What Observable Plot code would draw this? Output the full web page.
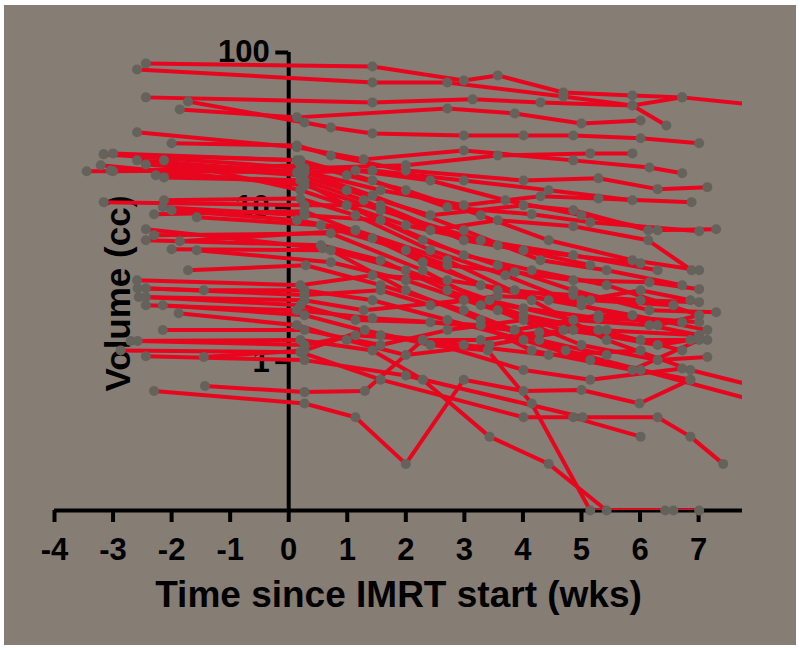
<!DOCTYPE html>
<html><head><meta charset="utf-8">
<script src="https://cdn.jsdelivr.net/npm/d3@7"></script>
<script src="https://cdn.jsdelivr.net/npm/@observablehq/plot@0.6"></script>
<style>
html,body{margin:0;padding:0;background:#ffffff;}
#chart{position:absolute;left:4px;top:5px;width:792px;height:640px;background:#867d75;}
</style></head><body><div id="chart"></div>
<script>
// weeks since IMRT start, one array per patient
const patientTimes = [
  [-2.44, 1.43, 2.99, 3.57, 4.69, 5.87, 6.72, 8.23],
  [-2.59, 1.43, 2.71, 4.69, 5.87, 6.72],
  [-2.44, 1.43, 3.14, 4.30, 5.87, 6.45],
  [-1.86, 0.14, 2.71, 3.86, 5.00, 6.01],
  [-1.72, 0.27, 0.72, 1.43, 2.99, 4.01, 4.86, 6.01, 7.01],
  [-2.59, 0.14, 1.28, 2.99, 4.86, 6.16, 6.72],
  [-2.00, 0.14, 0.72, 2.00, 4.01, 5.29, 6.30, 7.15],
  [-3.16, 0.27, 2.00, 3.57, 5.15, 5.87],
  [-3.45, 0.20, 1.57, 2.99, 4.30, 5.29, 6.88],
  [-2.44, 0.20, 0.99, 2.42, 4.01, 4.86, 6.14, 7.30],
  [-3.00, 0.20, 1.43, 2.71, 4.15, 5.15, 7.01],
  [-2.13, 0.27, 1.28, 2.42, 3.57, 4.86, 6.14, 6.88],
  [-3.16, 0.27, 1.57, 2.99, 4.01, 6.01],
  [-2.30, 0.27, 1.43, 2.71, 3.86, 4.86, 6.16, 7.01],
  [-2.00, 0.14, 1.14, 2.29, 3.57, 4.86, 6.01, 7.01],
  [-2.15, 0.27, 1.57, 2.99, 4.15, 5.43, 7.01],
  [-1.57, 0.55, 2.00, 3.28, 4.44, 5.87, 7.15],
  [-2.44, 0.58, 2.00, 3.43, 4.86, 6.16, 7.01],
  [-2.30, 0.72, 2.29, 3.57, 5.00, 6.30, 7.15],
  [-1.86, 1.14, 2.71, 4.15, 5.43, 6.86, 8.23],
  [-2.00, 0.72, 2.00, 3.28, 4.73, 6.01, 8.23],
  [-2.58, -1.45, 0.27, 1.43, 2.71, 4.01, 5.15, 6.86],
  [-2.44, 0.27, 1.57, 2.42, 3.57, 5.00, 6.01, 6.86],
  [-2.56, 0.27, 1.28, 2.99, 4.01, 5.29, 6.72],
  [-2.44, 0.20, 1.14, 2.42, 3.86, 5.29, 7.01],
  [-2.44, 0.14, 1.43, 3.28, 4.15, 5.87, 7.01],
  [-2.15, 0.27, 1.57, 2.99, 4.44, 6.01],
  [-1.88, 0.14, 0.99, 2.00, 3.43, 4.86, 6.30, 6.86],
  [-2.15, 0.27, 1.57, 2.71, 4.01, 5.43],
  [-2.58, 0.27, 1.14, 2.29, 4.01, 5.15, 6.72],
  [-2.70, 0.20, 1.43, 2.29, 3.43, 4.44, 5.43, 6.43, 7.01],
  [-2.87, 0.20, 1.57, 4.01, 4.86, 6.01],
  [-2.44, 0.27, 2.00, 5.02, 6.30, 6.86, 7.42],
  [-1.45, 0.27, 1.30, 2.42, 3.40, 4.15, 5.15, 6.57],
  [-2.30, 0.27, 1.14, 2.00, 2.99, 4.01, 5.00, 5.99, 6.86],
  [-1.43, 0.27, 1.30, 2.29, 3.28, 4.28, 5.29, 7.01],
  [-3.16, 0.14, 0.99, 2.00, 3.28, 4.44, 5.87, 7.01],
  [-3.00, 0.20, 1.14, 2.42, 3.70, 5.00, 6.30],
  [-2.59, 0.27, 1.43, 2.99, 4.30, 5.43, 6.72],
  [-2.27, 0.20, 0.99, 2.29, 3.57, 4.86, 6.16, 7.30],
  [-2.13, 0.20, 1.14, 2.42, 3.70, 5.00, 6.30, 7.01],
  [-2.44, 0.55, 1.57, 2.71, 4.01, 5.29, 6.72],
  [-1.57, 0.72, 2.00, 3.28, 4.69, 6.01, 7.15],
  [-2.59, 0.20, 1.43, 2.71, 3.86, 5.15, 6.57],
  [-1.72, 0.29, 1.57, 2.99, 4.28, 5.43],
  [-3.04, 0.14, 1.43, 2.99, 4.44, 5.87],
  [-3.21, 0.27, 1.57, 3.28, 4.86, 6.30],
  [-2.13, 0.20, 2.00, 3.57, 5.15]
];
// volume in cc, same order
const patientVolumes = [
  [84.9, 81.2, 65.9, 71.1, 55.2, 52.8, 51.3, 44.8],
  [77.6, 64.0, 64.0, 52.0, 45.5, 51.3],
  [51.3, 47.6, 49.8, 47.6, 45.5, 33.8],
  [42.9, 38.1, 43.5, 40.4, 34.8, 36.4],
  [48.3, 35.3, 32.8, 30.0, 29.1, 29.1, 29.1, 27.9, 25.9],
  [30.5, 24.4, 20.4, 23.3, 20.1, 18.1, 16.6],
  [25.9, 25.1, 21.6, 17.3, 14.9, 15.4, 13.1, 13.5],
  [22.0, 17.9, 18.7, 21.6, 22.3, 22.3],
  [17.1, 17.3, 12.9, 10.3, 11.8, 11.4, 10.8],
  [18.9, 16.1, 12.9, 8.88, 10.3, 9.57, 7.11, 7.21],
  [22.3, 20.1, 14.9, 10.0, 9.01, 8.00, 7.00],
  [15.6, 14.9, 11.1, 7.11, 8.25, 7.54, 6.12, 3.92],
  [10.8, 10.3, 10.3, 6.12, 5.28, 4.35],
  [9.01, 9.42, 6.31, 4.22, 3.81, 3.38, 3.28, 2.96],
  [9.57, 8.25, 7.11, 4.42, 2.91, 2.71, 2.51, 2.44],
  [10.0, 8.88, 8.25, 4.90, 3.92, 3.14, 2.01],
  [8.62, 7.65, 5.28, 3.14, 2.51, 2.01, 1.61],
  [7.21, 5.44, 3.92, 2.51, 1.87, 1.73, 1.49],
  [6.60, 6.79, 3.92, 2.16, 1.29, 1.03, 1.08],
  [6.04, 7.11, 4.55, 2.51, 1.39, 0.89, 0.66],
  [5.36, 5.28, 2.91, 1.87, 1.19, 0.89, 0.53],
  [3.00, 2.91, 2.91, 2.51, 1.87, 1.39, 1.03, 0.77],
  [3.00, 2.71, 2.91, 2.33, 2.67, 2.51, 2.91, 2.51],
  [2.63, 2.51, 2.16, 2.51, 2.23, 1.92, 1.81],
  [2.63, 2.33, 1.87, 1.81, 1.61, 2.01, 1.81],
  [2.33, 2.16, 1.92, 1.73, 1.19, 0.89, 1.39],
  [2.33, 2.01, 1.49, 1.29, 1.11, 1.19],
  [2.07, 1.73, 1.39, 1.11, 1.29, 1.61, 1.29, 1.39],
  [1.61, 1.61, 1.29, 1.61, 1.87, 1.61],
  [1.37, 1.29, 1.49, 1.39, 0.89, 0.77, 0.91],
  [1.37, 1.39, 1.19, 0.77, 0.33, 0.22, 0.11, 0.11, 0.11],
  [1.19, 1.16, 0.77, 0.44, 0.44, 0.33],
  [1.09, 1.03, 0.82, 0.44, 0.44, 0.33, 0.22],
  [1.08, 1.19, 1.61, 1.29, 1.19, 0.54, 0.11, 0.11],
  [0.65, 0.54, 0.44, 0.22, 0.77, 0.65, 0.66, 0.54, 0.77],
  [0.70, 0.64, 0.65, 1.39, 1.39, 1.56, 1.61, 1.49],
  [22.0, 20.1, 16.1, 12.9, 8.88, 6.12, 4.55, 3.92],
  [17.1, 18.7, 17.3, 14.9, 11.1, 8.88, 7.11],
  [20.1, 16.8, 11.9, 7.11, 4.55, 3.92, 3.14],
  [16.1, 14.9, 10.3, 6.12, 4.22, 2.91, 2.16, 2.10],
  [11.1, 11.4, 8.88, 5.28, 3.64, 2.33, 1.73, 2.01],
  [6.12, 5.69, 4.55, 2.91, 2.01, 1.61, 1.19],
  [5.28, 4.42, 3.38, 2.33, 1.61, 1.39, 1.39],
  [3.38, 3.14, 3.64, 3.38, 2.91, 2.51, 2.33],
  [3.92, 4.22, 3.14, 2.16, 1.39, 1.11],
  [17.3, 16.8, 17.3, 14.9, 12.9, 11.1],
  [18.7, 13.9, 9.57, 6.12, 4.90, 3.92],
  [20.1, 12.9, 7.65, 5.69, 4.22]
];
const xTicks = [-4, -3, -2, -1, 0, 1, 2, 3, 4, 5, 6, 7];
const yTicks = [1, 10, 100];
const xLabel = "Time since IMRT start (wks)";
const yLabel = "Volume (cc)";
const xDomain = [-4, 7.75];
const yDomain = [0.11, 100];

const rows = patientTimes.flatMap((ts, i) => ts.map((t, j) => ({id: i, t, v: patientVolumes[i][j]})));
const visible = rows.filter(d => d.t <= xDomain[1]);

const FONT = "'Liberation Sans', Arial, Helvetica, sans-serif";
const plot = Plot.plot({
  width: 792, height: 640,
  marginLeft: 50, marginRight: 54, marginTop: 47, marginBottom: 135,
  style: {background: "transparent", fontFamily: FONT, color: "black", overflow: "visible"},
  x: {domain: xDomain},
  y: {type: "log", domain: yDomain, axis: null},
  marks: [
    Plot.axisX({ticks: xTicks, tickSize: 12, tickPadding: 15, fontSize: 31, fontWeight: "bold",
      strokeWidth: 4, stroke: "black", fill: "black", tickFormat: d => String(d), label: null}),
    Plot.ruleY([yDomain[0]], {stroke: "black", strokeWidth: 4}),
    Plot.ruleX([0], {y1: yDomain[0], y2: yDomain[1], stroke: "black", strokeWidth: 4}),
    Plot.ruleY(yTicks, {y: d => d, x1: -0.22, x2: 0, stroke: "black", strokeWidth: 4}),
    Plot.text(yTicks, {x: 0, y: d => d, dx: -19, textAnchor: "end", text: d => String(d),
      fontSize: 31, fontWeight: "bold", fill: "black"}),
    Plot.text([yLabel], {frameAnchor: "left", dx: 64, dy: 110, rotate: -90, fontSize: 35, fontWeight: "bold", fill: "black"}),
    Plot.text([xLabel], {frameAnchor: "bottom", dy: 96, fontSize: 37, fontWeight: "bold", fill: "black"}),
    Plot.line(rows, {x: "t", y: "v", z: "id", stroke: "#e8061f", strokeWidth: 4, clip: true, strokeLinejoin: "round"}),
    Plot.dot(visible, {x: "t", y: "v", r: 5, fill: "#65625c", stroke: "none"})
  ]
});
document.getElementById("chart").appendChild(plot);
</script>
</body></html>
